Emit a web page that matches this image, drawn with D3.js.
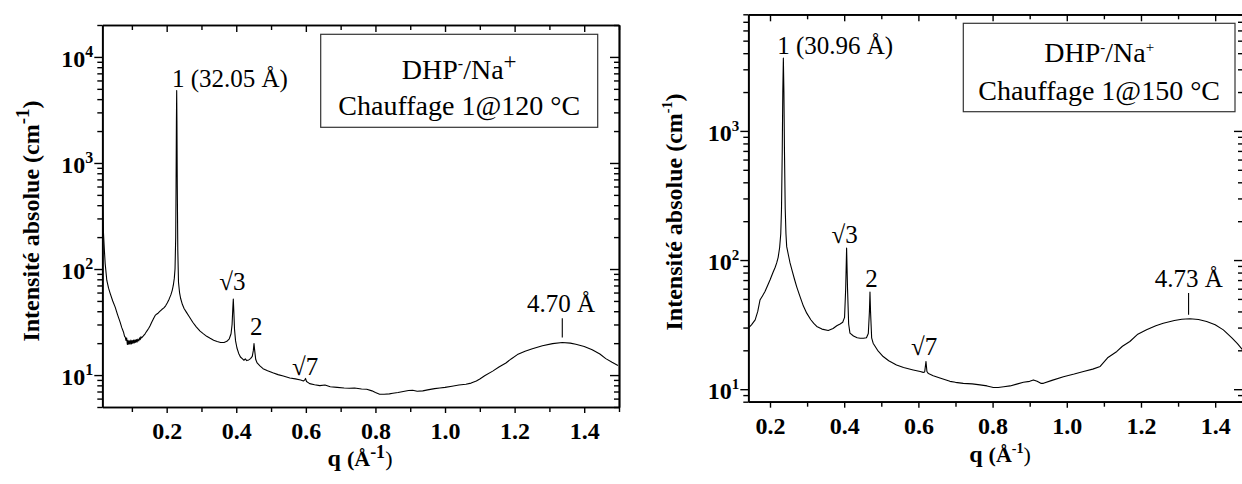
<!DOCTYPE html>
<html><head><meta charset="utf-8">
<script src="https://cdn.jsdelivr.net/npm/d3@7"></script>
<style>
body{margin:0;background:#fff}
svg{display:block}
svg text{font-family:"Liberation Serif","DejaVu Serif","Noto Serif",Times,serif !important;fill:#000}
</style>
</head><body>
<svg id="c" width="1242" height="484"></svg>
<script>
// ---------- DATA: left panel (Chauffage 1@120 °C) ----------
const qLeft = [0.0146,0.0165,0.0184,0.021,0.0232,0.028,0.033,0.0376,0.045,0.052,0.059,0.0662,0.071,0.0758,0.079,0.081,0.083,0.085,0.087,0.089,0.091,0.093,0.095,0.097,0.099,0.101,0.103,0.105,0.107,0.109,0.111,0.113,0.115,0.117,0.120,0.122,0.124,0.126,0.128,0.133,0.138,0.143,0.148,0.152,0.157,0.162,0.167,0.171,0.176,0.181,0.186,0.192,0.197,0.202,0.207,0.212,0.216,0.219,0.222,0.224,0.226,0.227,0.228,0.2288,0.2295,0.2305,0.232,0.234,0.237,0.240,0.245,0.250,0.257,0.265,0.275,0.285,0.296,0.305,0.315,0.325,0.335,0.345,0.355,0.365,0.373,0.380,0.385,0.388,0.390,0.3915,0.393,0.395,0.398,0.402,0.407,0.412,0.418,0.422,0.426,0.430,0.436,0.441,0.446,0.449,0.451,0.453,0.456,0.460,0.468,0.477,0.490,0.505,0.520,0.535,0.554,0.570,0.585,0.593,0.597,0.599,0.602,0.611,0.625,0.640,0.655,0.670,0.690,0.710,0.725,0.740,0.760,0.775,0.790,0.800,0.812,0.825,0.840,0.850,0.865,0.880,0.895,0.907,0.920,0.936,0.950,0.970,0.985,1.000,1.020,1.040,1.060,1.075,1.090,1.100,1.115,1.137,1.155,1.175,1.190,1.208,1.230,1.251,1.280,1.309,1.337,1.360,1.376,1.400,1.423,1.445,1.462,1.480,1.497];
const iLeft = [600,330,219,150,113,78,66,59,50,43.7,37,31.6,28,25.5,23.2,22.8,21.2,22.4,19.4,21.3,19.5,21,19.6,21.4,19.7,21.2,19.9,21.4,20.1,21.5,20.3,21.6,20.5,21.8,21,22.4,21.6,23,22.4,23.4,24.5,26,27.5,29,31.5,34,36.5,37.5,38.5,40,41.5,43,45,48,52,57,63,70,82,100,200,600,2500,4830,2500,600,150,75,60,53,46.5,42.5,39,35.5,31.5,28.5,26,24.6,23.2,22.2,21.3,20.7,20.3,20.3,20.8,22,24.5,30,42,52,40,27,21,18,16,14.8,14.2,13.8,14.2,13.7,13.9,14.3,15,17,19.8,17,14,13,12.2,11.5,11,10.5,10.1,9.8,9.4,9.2,9.0,8.8,9.0,9.3,8.7,8.3,8.1,7.95,8.05,7.75,7.65,7.55,7.5,7.55,7.4,7.35,7.1,6.85,6.6,6.6,6.65,6.75,6.85,7.0,7.15,7.2,7.05,7.1,7.25,7.45,7.55,7.65,7.85,8.05,8.2,8.4,8.8,9.2,9.9,10.9,11.9,13.0,14.2,15.6,16.8,17.7,18.9,19.8,20.3,20.0,19.5,18.6,17.3,15.8,14.3,13.2,12.3];

// ---------- DATA: right panel (Chauffage 1@150 °C) ----------
const qRight = [0.1415,0.150,0.160,0.167,0.173,0.180,0.1865,0.193,0.200,0.208,0.214,0.218,0.222,0.226,0.229,0.231,0.233,0.2345,0.236,0.2375,0.239,0.241,0.243,0.245,0.250,0.254,0.260,0.266,0.272,0.280,0.290,0.299,0.310,0.318,0.326,0.340,0.357,0.370,0.380,0.389,0.396,0.401,0.404,0.4065,0.409,0.412,0.4155,0.425,0.435,0.443,0.452,0.460,0.465,0.468,0.4695,0.471,0.474,0.478,0.490,0.505,0.520,0.541,0.560,0.586,0.605,0.613,0.617,0.6205,0.623,0.627,0.640,0.658,0.685,0.700,0.721,0.745,0.766,0.785,0.802,0.815,0.830,0.847,0.865,0.883,0.900,0.910,0.920,0.930,0.937,0.960,0.991,1.020,1.045,1.070,1.090,1.110,1.135,1.150,1.170,1.190,1.215,1.240,1.260,1.290,1.310,1.332,1.355,1.377,1.400,1.422,1.445,1.460,1.476];
const iRight = [29.7,31.5,34.4,40,49,53,57,63,70,80,88,95,105,125,160,250,700,2000,3660,2000,700,250,160,127,108,95,82,71,62,53,44,38.8,34.5,32.3,30.6,29.2,28.5,29.5,31,32,33,36,60,124,60,32,27.2,25.8,25,24.8,24.8,25,27,40,56.5,40,25,22.7,20,17.9,16.6,15.4,14.7,14.1,13.7,13.5,13.6,16.4,13.7,13.2,12.7,12.2,11.5,11.3,11.1,11.0,10.8,10.6,10.3,10.3,10.45,10.6,10.95,11.3,11.5,11.8,11.5,11.1,11.1,11.7,12.5,13.1,13.7,14.3,15,17.5,19.6,21.5,23.4,26.5,28.8,31,32.4,34,34.8,35.1,34.6,33.4,31.5,28.8,25,22.5,19.8];

// ---------- ticks ----------
const xMajorTicks = [0.2,0.4,0.6,0.8,1.0,1.2,1.4];
const xMinorTicks = [0.1,0.3,0.5,0.7,0.9,1.1,1.3,1.5];
const yDecadesLeft = [10,100,1000,10000];
const yDecadesRight = [10,100,1000];
const yExpLeft = ["1","2","3","4"];
const yExpRight = ["1","2","3"];

// ---------- annotations ----------
const annLeftText = ["1 (32.05 Å)","√3","2","√7","4.70 Å"];
const annLeftQ = [0.2153,0.389,0.4576,0.598,1.3334];
const annLeftI = [5240,63,23.7,9.93,39.2];
const annLeftAnchor = ["start","middle","middle","middle","middle"];
const markLeft = {q:1.337, i0:34.3, i1:22.6};

const annRightText = ["1 (30.96 Å)","√3","2","√7","4.73 Å"];
const annRightQ = [0.2194,0.4013,0.4736,0.6156,1.3289];
const annRightI = [3945,136,62.1,18.5,62.4];
const annRightAnchor = ["start","middle","middle","middle","middle"];
const markRight = {q:1.3283, i0:55.5, i1:37.7};

const svg = d3.select("#c");

function minorLog(domain){
  const out=[];
  for(let e=-1;e<6;e++){
    const d=Math.pow(10,e);
    for(let m=2;m<=9;m++){const v=m*d; if(v>=domain[0]&&v<=domain[1]) out.push(v);}
  }
  return out;
}

function sup(sel, base, exp, expSize, dyUp){
  sel.text(null);
  sel.append("tspan").text(base);
  sel.append("tspan").attr("dy",-dyUp).attr("font-size",expSize).text(exp);
}

function panel(o){
  const x = d3.scaleLinear().domain(o.xDomain).range([o.left,o.right]);
  const y = d3.scaleLog().domain(o.yDomain).range([o.bottom,o.top]);
  const g = svg.append("g");
  const cid = "clip"+o.id;
  svg.append("defs").append("clipPath").attr("id",cid)
    .append("rect").attr("x",o.left).attr("y",o.top).attr("width",o.right-o.left).attr("height",o.bottom-o.top);

  const line = d3.line().x((d,i)=>x(o.q[i])).y(d=>y(d));
  g.append("path").datum(o.I).attr("d",line).attr("fill","none")
    .attr("stroke","#000").attr("stroke-width",1.1).attr("stroke-linejoin","round")
    .attr("clip-path",`url(#${cid})`);

  const sw = 1.7;
  const style = s=>{ s.select(".domain").attr("stroke","#000").attr("stroke-width",sw);
    s.selectAll(".tick line").attr("stroke","#000").attr("stroke-width",1.4);
    s.attr("font-family",null); };

  g.append("g").attr("transform",`translate(0,${o.bottom})`)
    .call(d3.axisBottom(x).tickValues(xMinorTicks.filter(v=>v>=o.xDomain[0]&&v<=o.xDomain[1])).tickSize(5).tickSizeOuter(0).tickFormat(""))
    .call(style);
  const bx = g.append("g").attr("transform",`translate(0,${o.bottom})`)
    .call(d3.axisBottom(x).tickValues(xMajorTicks).tickSize(6).tickPadding(9).tickSizeOuter(0).tickFormat(d3.format(".1f")))
    .call(style);
  bx.selectAll(".tick text").attr("font-size",o.xTickSize).attr("font-weight","bold");
  g.append("g").attr("transform",`translate(0,${o.top})`)
    .call(d3.axisTop(x).tickValues(xMinorTicks.filter(v=>v>=o.xDomain[0]&&v<=o.xDomain[1])).tickSize(-5).tickSizeOuter(0).tickFormat(""))
    .call(style);
  g.append("g").attr("transform",`translate(0,${o.top})`)
    .call(d3.axisTop(x).tickValues(xMajorTicks).tickSize(-7).tickSizeOuter(0).tickFormat(""))
    .call(style);
  g.append("g").attr("transform",`translate(${o.left},0)`)
    .call(d3.axisLeft(y).tickValues(minorLog(o.yDomain)).tickSize(5).tickSizeOuter(0).tickFormat(""))
    .call(style);
  const ly = g.append("g").attr("transform",`translate(${o.left},0)`)
    .call(d3.axisLeft(y).tickValues(o.yDecades).tickSize(8).tickPadding(1).tickSizeOuter(0).tickFormat(""))
    .call(style);
  ly.selectAll(".tick text").each(function(d,i){
    const t=d3.select(this).attr("font-size",o.yTickSize).attr("font-weight","bold").attr("dy","0.38em");
    sup(t,"10",o.yExp[i],o.yExpSize,10);
  });
  g.append("g").attr("transform",`translate(${o.right},0)`)
    .call(d3.axisRight(y).tickValues(minorLog(o.yDomain)).tickSize(-5).tickSizeOuter(0).tickFormat(""))
    .call(style);
  g.append("g").attr("transform",`translate(${o.right},0)`)
    .call(d3.axisRight(y).tickValues(o.yDecades).tickSize(-9).tickSizeOuter(0).tickFormat(""))
    .call(style);

  const yt = g.append("text").attr("transform",`translate(${o.yTitleX},${o.yTitleY}) rotate(-90)`)
    .attr("text-anchor","middle").attr("font-weight","bold").attr("font-size",o.yTitleSize);
  yt.append("tspan").text("Intensité absolue (cm");
  yt.append("tspan").attr("dy",-o.yTitleSupUp).attr("font-size",o.yTitleSupSize).text("-1");
  yt.append("tspan").attr("dy",o.yTitleSupUp).text(")");

  const xt = g.append("text").attr("x",o.xTitleX).attr("y",o.xTitleY)
    .attr("text-anchor","middle").attr("font-weight","bold").attr("font-size",o.xTitleSize);
  xt.append("tspan").text("q ");
  xt.append("tspan").attr("font-size",o.xTitleSize-2).text("(Å");
  xt.append("tspan").attr("dy",-o.xTitleSupUp).attr("font-size",o.xTitleSupSize).text("-1");
  xt.append("tspan").attr("dy",o.xTitleSupUp).attr("font-size",o.xTitleSize-2).attr("font-weight","normal").text(")");

  o.annText.forEach((t,i)=>{
    g.append("text").attr("x",x(o.annQ[i])).attr("y",y(o.annI[i]))
      .attr("text-anchor",o.annAnchor[i]).attr("font-size",25).text(t);
  });
  g.append("line").attr("x1",x(o.mark.q)).attr("x2",x(o.mark.q))
    .attr("y1",y(o.mark.i0)).attr("y2",y(o.mark.i1)).attr("stroke","#000").attr("stroke-width",1.1);

  const L=o.legend;
  g.append("rect").attr("x",L.x).attr("y",L.y).attr("width",L.w).attr("height",L.h)
    .attr("fill","#fff").attr("stroke","#333").attr("stroke-width",1.2);
  const cx=L.x+L.w/2;
  const t1=g.append("text").attr("x",cx).attr("y",L.line1).attr("text-anchor","middle").attr("font-size",L.size);
  t1.append("tspan").text("DHP");
  t1.append("tspan").attr("dy",-L.supUp).attr("font-size",L.supSize1).text("-");
  t1.append("tspan").attr("dy",L.supUp).text("/Na");
  t1.append("tspan").attr("dy",-L.supUp).attr("font-size",L.supSize2).text("+");
  g.append("text").attr("x",cx).attr("y",L.line2).attr("text-anchor","middle").attr("font-size",L.size).text(L.title);
}

panel({id:"L", q:qLeft, I:iLeft, xDomain:[0.015,1.5], yDomain:[5,20000],
  left:102.3, right:619, top:25, bottom:407, yDecades:yDecadesLeft, yExp:yExpLeft,
  xTickSize:24, yTickSize:24, yExpSize:16,
  yTitleX:39, yTitleY:221, yTitleSize:24, yTitleSupSize:19, yTitleSupUp:10,
  xTitleX:360, xTitleY:466, xTitleSize:24, xTitleSupSize:18, xTitleSupUp:8,
  annText:annLeftText, annQ:annLeftQ, annI:annLeftI, annAnchor:annLeftAnchor, mark:markLeft,
  legend:{x:320.7,y:34.3,w:277,h:93,line1:79,line2:115,size:28,supSize1:16,supSize2:23,supUp:10,title:"Chauffage 1@120 °C"}});

panel({id:"R", q:qRight, I:iRight, xDomain:[0.1415,1.475], yDomain:[8,8000],
  left:748.3, right:1243, top:14.3, bottom:401.7, yDecades:yDecadesRight, yExp:yExpRight,
  xTickSize:24, yTickSize:24, yExpSize:15,
  yTitleX:682, yTitleY:212, yTitleSize:24, yTitleSupSize:14, yTitleSupUp:10,
  xTitleX:1000, xTitleY:462, xTitleSize:24, xTitleSupSize:14, xTitleSupUp:9,
  annText:annRightText, annQ:annRightQ, annI:annRightI, annAnchor:annRightAnchor, mark:markRight,
  legend:{x:963.3,y:23.3,w:271.7,h:88.4,line1:61.7,line2:100,size:28,supSize1:15,supSize2:15,supUp:10,title:"Chauffage 1@150 °C"}});
</script>
</body></html>
